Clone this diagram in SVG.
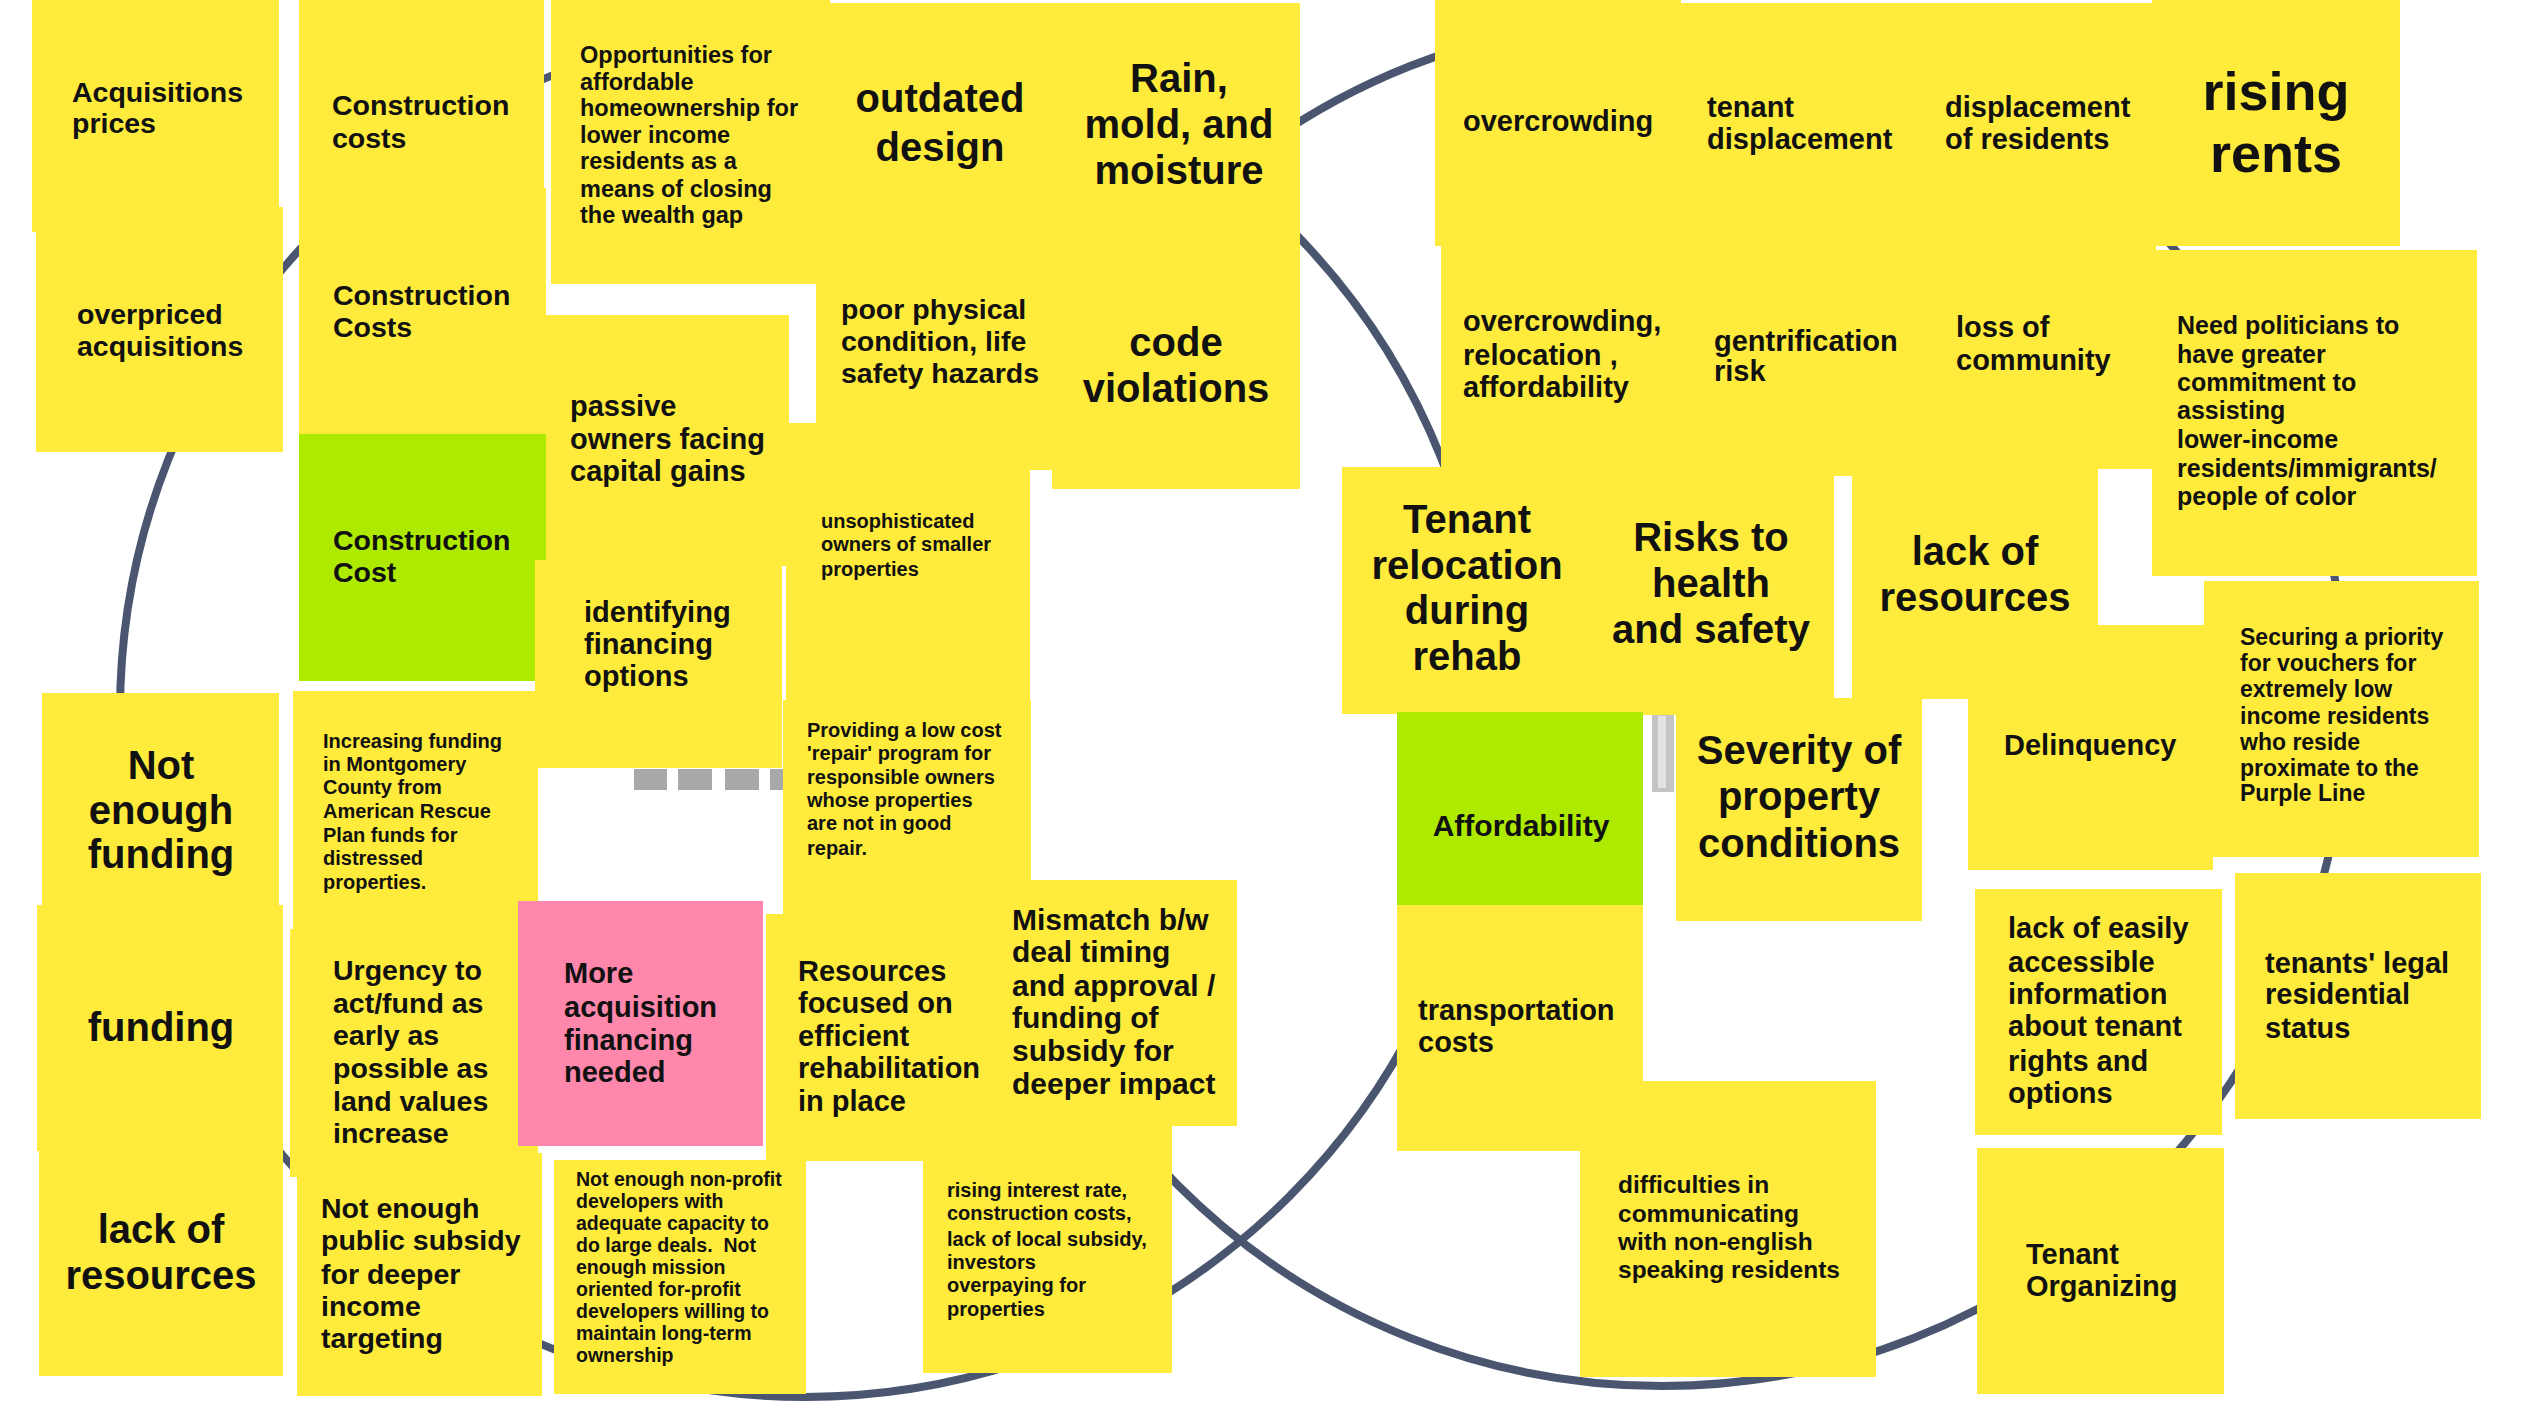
<svg xmlns="http://www.w3.org/2000/svg" width="2528" height="1422" viewBox="0 0 2528 1422">
<style>
.y{fill:#ffeb3b}
.gr{fill:#aeea00}
.pk{fill:#ff87ab}
text{font-family:"Liberation Sans",Arial,sans-serif;font-weight:bold;fill:#111}
.c{text-anchor:middle}
.f20{font-size:20px}
.f23{font-size:23.5px}
.f25{font-size:25px}
.f28{font-size:28.5px}
.f29{font-size:29px}
.f40{font-size:40px}
.f54{font-size:54px}
.circ{fill:none;stroke:#4a5570;stroke-width:8}
</style>
<rect width="2528" height="1422" fill="#ffffff"/>
<g id="circles">
<circle class="circ" cx="805" cy="712" r="685"/>
<circle class="circ" cx="1662" cy="702" r="684"/>
</g>
<g id="dashes" fill="#a9a9a9">
<rect x="634" y="769" width="33" height="21"/>
<rect x="678" y="769" width="34" height="21"/>
<rect x="725" y="769" width="34" height="21"/>
<rect x="770" y="769" width="13" height="21"/>
</g>
<g id="bar">
<rect x="1652" y="712" width="22" height="80" fill="#c4c4c4"/>
<rect x="1658" y="716" width="8" height="72" fill="#e2e2e2"/>
</g>

<g id="n-acq-prices"><rect class="y" x="32" y="0" width="247" height="232"/>
<text class="f28" x="72" y="102">Acquisitions</text><text class="f28" x="72" y="133">prices</text></g>
<g id="n-overpriced"><rect class="y" x="36" y="207" width="247" height="245"/>
<text class="f28" x="77" y="324">overpriced</text><text class="f28" x="77" y="356">acquisitions</text></g>
<g id="n-not-enough-funding"><rect class="y" x="42" y="693" width="237" height="212"/>
<text class="f40 c" x="161" y="779">Not</text><text class="f40 c" x="161" y="824">enough</text><text class="f40 c" x="161" y="868">funding</text></g>
<g id="n-funding"><rect class="y" x="37" y="905" width="246" height="246"/>
<text class="f40 c" x="161" y="1041">funding</text></g>
<g id="n-lack-resources-left"><rect class="y" x="39" y="1151" width="244" height="225"/>
<text class="f40 c" x="161" y="1243">lack of</text><text class="f40 c" x="161" y="1289">resources</text></g>

<g id="n-construction-costs"><rect class="y" x="299" y="0" width="245" height="200"/>
<text class="f28" x="332" y="115">Construction</text><text class="f28" x="332" y="148">costs</text></g>
<g id="n-construction-costs-2"><rect class="y" x="299" y="188" width="247" height="246"/>
<text class="f28" x="333" y="305">Construction</text><text class="f28" x="333" y="337">Costs</text></g>
<g id="n-construction-cost-green"><rect class="gr" x="299" y="434" width="247" height="247"/>
<text class="f28" x="333" y="550">Construction</text><text class="f28" x="333" y="582">Cost</text></g>
<g id="n-increasing-funding"><rect class="y" x="293" y="691" width="245" height="238"/>
<text class="f20" x="323" y="748">Increasing funding</text><text class="f20" x="323" y="771">in Montgomery</text><text class="f20" x="323" y="794">County from</text><text class="f20" x="323" y="818">American Rescue</text><text class="f20" x="323" y="842">Plan funds for</text><text class="f20" x="323" y="865">distressed</text><text class="f20" x="323" y="889">properties.</text></g>
<g id="n-urgency"><rect class="y" x="290" y="929" width="248" height="248"/>
<text class="f28" x="333" y="980">Urgency to</text><text class="f28" x="333" y="1013">act/fund as</text><text class="f28" x="333" y="1045">early as</text><text class="f28" x="333" y="1078">possible as</text><text class="f28" x="333" y="1111">land values</text><text class="f28" x="333" y="1143">increase</text></g>
<g id="n-public-subsidy"><rect class="y" x="297" y="1153" width="245" height="243"/>
<text class="f28" x="321" y="1218">Not enough</text><text class="f28" x="321" y="1250">public subsidy</text><text class="f28" x="321" y="1284">for deeper</text><text class="f28" x="321" y="1316">income</text><text class="f28" x="321" y="1348">targeting</text></g>

<g id="n-opportunities"><rect class="y" x="551" y="0" width="279" height="284"/>
<text class="f23" x="580" y="63">Opportunities for</text><text class="f23" x="580" y="90">affordable</text><text class="f23" x="580" y="116">homeownership for</text><text class="f23" x="580" y="143">lower income</text><text class="f23" x="580" y="169">residents as a</text><text class="f23" x="580" y="197">means of closing</text><text class="f23" x="580" y="223">the wealth gap</text></g>
<g id="n-passive-owners"><rect class="y" x="546" y="315" width="243" height="251"/>
<text class="f29" x="570" y="416">passive</text><text class="f29" x="570" y="449">owners facing</text><text class="f29" x="570" y="481">capital gains</text></g>
<g id="n-identifying"><rect class="y" x="535" y="560" width="247" height="208"/>
<text class="f29" x="584" y="622">identifying</text><text class="f29" x="584" y="654">financing</text><text class="f29" x="584" y="686">options</text></g>
<g id="n-more-acquisition"><rect class="pk" x="518" y="901" width="245" height="245"/>
<text class="f29" x="564" y="983">More</text><text class="f29" x="564" y="1017">acquisition</text><text class="f29" x="564" y="1050">financing</text><text class="f29" x="564" y="1082">needed</text></g>
<g id="n-non-profit"><rect class="y" x="554" y="1160" width="252" height="234"/>
<text style="font-size:19.5px" x="576" y="1186">Not enough non-profit</text><text style="font-size:19.5px" x="576" y="1208">developers with</text><text style="font-size:19.5px" x="576" y="1230">adequate capacity to</text><text style="font-size:19.5px" x="576" y="1252" xml:space="preserve">do large deals.  Not</text><text style="font-size:19.5px" x="576" y="1274">enough mission</text><text style="font-size:19.5px" x="576" y="1296">oriented for-profit</text><text style="font-size:19.5px" x="576" y="1318">developers willing to</text><text style="font-size:19.5px" x="576" y="1340">maintain long-term</text><text style="font-size:19.5px" x="576" y="1362">ownership</text></g>

<g id="n-outdated"><rect class="y" x="830" y="3" width="240" height="242"/>
<text class="f40 c" x="940" y="112">outdated</text><text class="f40 c" x="940" y="161">design</text></g>
<g id="n-rain"><rect class="y" x="1060" y="3" width="240" height="237"/>
<text class="f40 c" x="1179" y="92">Rain,</text><text class="f40 c" x="1179" y="138">mold, and</text><text class="f40 c" x="1179" y="184">moisture</text></g>
<g id="n-poor-physical"><rect class="y" x="816" y="240" width="245" height="230"/>
<text class="f28" x="841" y="319">poor physical</text><text class="f28" x="841" y="351">condition, life</text><text class="f28" x="841" y="383">safety hazards</text></g>
<g id="n-code-violations"><rect class="y" x="1052" y="240" width="248" height="249"/>
<text class="f40 c" x="1176" y="356">code</text><text class="f40 c" x="1176" y="402">violations</text></g>
<g id="n-unsophisticated"><rect class="y" x="786" y="423" width="244" height="283"/>
<text class="f20" x="821" y="528">unsophisticated</text><text class="f20" x="821" y="551">owners of smaller</text><text class="f20" x="821" y="576">properties</text></g>
<g id="n-repair-program"><rect class="y" x="783" y="700" width="248" height="214"/>
<text class="f20" x="807" y="737">Providing a low cost</text><text class="f20" x="807" y="760">'repair' program for</text><text class="f20" x="807" y="784">responsible owners</text><text class="f20" x="807" y="807">whose properties</text><text class="f20" x="807" y="830">are not in good</text><text class="f20" x="807" y="855">repair.</text></g>
<g id="n-resources-focused"><rect class="y" x="766" y="914" width="240" height="247"/>
<text class="f29" x="798" y="981">Resources</text><text class="f29" x="798" y="1013">focused on</text><text class="f29" x="798" y="1046">efficient</text><text class="f29" x="798" y="1078">rehabilitation</text><text class="f29" x="798" y="1111">in place</text></g>
<g id="n-mismatch"><rect class="y" x="991" y="880" width="246" height="246"/>
<text style="font-size:30px" x="1012" y="930">Mismatch b/w</text><text style="font-size:30px" x="1012" y="962">deal timing</text><text style="font-size:30px" x="1012" y="996">and approval /</text><text style="font-size:30px" x="1012" y="1028">funding of</text><text style="font-size:30px" x="1012" y="1061">subsidy for</text><text style="font-size:30px" x="1012" y="1094">deeper impact</text></g>
<g id="n-rising-interest"><rect class="y" x="923" y="1126" width="249" height="247"/>
<text class="f20" x="947" y="1197">rising interest rate,</text><text class="f20" x="947" y="1220">construction costs,</text><text class="f20" x="947" y="1246">lack of local subsidy,</text><text class="f20" x="947" y="1269">investors</text><text class="f20" x="947" y="1292">overpaying for</text><text class="f20" x="947" y="1316">properties</text></g>

<g id="n-overcrowding"><rect class="y" x="1435" y="0" width="246" height="246"/>
<text class="f29" x="1463" y="131">overcrowding</text></g>
<g id="n-tenant-displacement"><rect class="y" x="1681" y="3" width="240" height="243"/>
<text class="f29" x="1707" y="117">tenant</text><text class="f29" x="1707" y="149">displacement</text></g>
<g id="n-displacement-residents"><rect class="y" x="1921" y="3" width="231" height="243"/>
<text class="f29" x="1945" y="117">displacement</text><text class="f29" x="1945" y="149">of residents</text></g>
<g id="n-rising-rents"><rect class="y" x="2152" y="0" width="248" height="246"/>
<text class="f54 c" x="2276" y="110">rising</text><text class="f54 c" x="2276" y="172">rents</text></g>
<g id="n-overcrowding-relocation"><rect class="y" x="1441" y="246" width="250" height="230"/>
<text class="f29" x="1463" y="331">overcrowding,</text><text class="f29" x="1463" y="365">relocation ,</text><text class="f29" x="1463" y="397">affordability</text></g>
<g id="n-gentrification"><rect class="y" x="1691" y="246" width="240" height="230"/>
<text class="f29" x="1714" y="351">gentrification</text><text class="f29" x="1714" y="381">risk</text></g>
<g id="n-loss-community"><rect class="y" x="1931" y="246" width="225" height="223"/>
<text class="f29" x="1956" y="337">loss of</text><text class="f29" x="1956" y="370">community</text></g>
<g id="n-politicians"><rect class="y" x="2152" y="250" width="325" height="326"/>
<text class="f25" x="2177" y="334">Need politicians to</text><text class="f25" x="2177" y="363">have greater</text><text class="f25" x="2177" y="391">commitment to</text><text class="f25" x="2177" y="419">assisting</text><text class="f25" x="2177" y="448">lower-income</text><text class="f25" x="2177" y="477">residents/immigrants/</text><text class="f25" x="2177" y="505">people of color</text></g>
<g id="n-tenant-relocation"><rect class="y" x="1342" y="467" width="260" height="247"/>
<text class="f40 c" x="1467" y="533">Tenant</text><text class="f40 c" x="1467" y="579">relocation</text><text class="f40 c" x="1467" y="624">during</text><text class="f40 c" x="1467" y="670">rehab</text></g>
<g id="n-risks"><rect class="y" x="1595" y="470" width="239" height="245"/>
<text class="f40 c" x="1711" y="551">Risks to</text><text class="f40 c" x="1711" y="597">health</text><text class="f40 c" x="1711" y="643">and safety</text></g>
<g id="n-lack-resources-right"><rect class="y" x="1852" y="469" width="246" height="230"/>
<text class="f40 c" x="1975" y="565">lack of</text><text class="f40 c" x="1975" y="611">resources</text></g>
<g id="n-delinquency"><rect class="y" x="1968" y="625" width="245" height="245"/>
<text class="f29" x="2004" y="755">Delinquency</text></g>
<g id="n-securing"><rect class="y" x="2204" y="581" width="275" height="276"/>
<text style="font-size:23px" x="2240" y="645">Securing a priority</text><text style="font-size:23px" x="2240" y="671">for vouchers for</text><text style="font-size:23px" x="2240" y="697">extremely low</text><text style="font-size:23px" x="2240" y="724">income residents</text><text style="font-size:23px" x="2240" y="750">who reside</text><text style="font-size:23px" x="2240" y="776">proximate to the</text><text style="font-size:23px" x="2240" y="801">Purple Line</text></g>
<g id="n-affordability"><rect class="gr" x="1397" y="712" width="246" height="193"/>
<text class="c" style="font-size:30px" x="1521" y="836">Affordability</text></g>
<g id="n-severity"><rect class="y" x="1676" y="698" width="246" height="223"/>
<text class="f40 c" x="1799" y="764">Severity of</text><text class="f40 c" x="1799" y="810">property</text><text class="f40 c" x="1799" y="857">conditions</text></g>
<g id="n-transportation"><rect class="y" x="1397" y="905" width="246" height="246"/>
<text class="f29" x="1418" y="1020">transportation</text><text class="f29" x="1418" y="1052">costs</text></g>
<g id="n-difficulties"><rect class="y" x="1580" y="1081" width="296" height="296"/>
<text style="font-size:24.5px" x="1618" y="1193">difficulties in</text><text style="font-size:24.5px" x="1618" y="1222">communicating</text><text style="font-size:24.5px" x="1618" y="1250">with non-english</text><text style="font-size:24.5px" x="1618" y="1278">speaking residents</text></g>
<g id="n-lack-info"><rect class="y" x="1975" y="889" width="247" height="246"/>
<text class="f29" x="2008" y="938">lack of easily</text><text class="f29" x="2008" y="972">accessible</text><text class="f29" x="2008" y="1004">information</text><text class="f29" x="2008" y="1036">about tenant</text><text class="f29" x="2008" y="1071">rights and</text><text class="f29" x="2008" y="1103">options</text></g>
<g id="n-legal-status"><rect class="y" x="2235" y="873" width="246" height="246"/>
<text class="f29" x="2265" y="973">tenants' legal</text><text class="f29" x="2265" y="1004">residential</text><text class="f29" x="2265" y="1038">status</text></g>
<g id="n-tenant-organizing"><rect class="y" x="1977" y="1148" width="247" height="246"/>
<text class="f29" x="2026" y="1264">Tenant</text><text class="f29" x="2026" y="1296">Organizing</text></g>
</svg>
